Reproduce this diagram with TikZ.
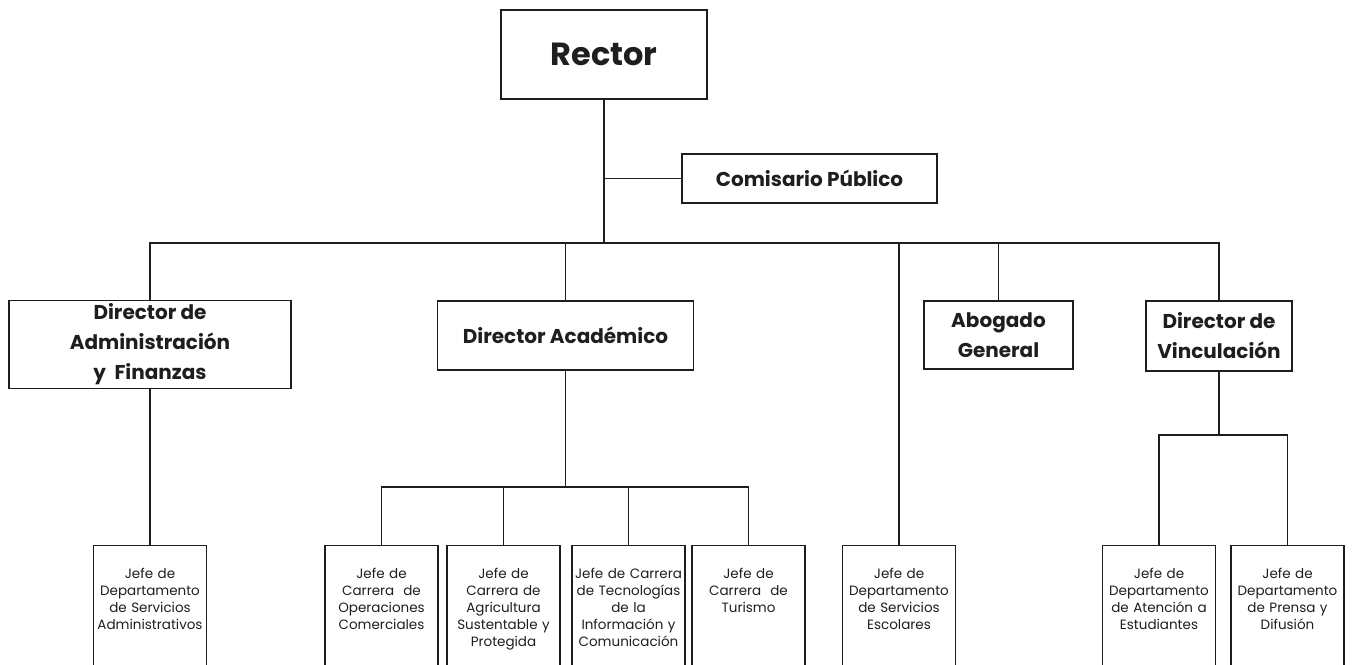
\documentclass[tikz,border=0pt]{standalone}
\usepackage{fontspec}
\setmainfont{Poppins}
\usetikzlibrary{positioning}
\definecolor{ink}{RGB}{30,30,30}
\tikzstyle{boss}=[draw=ink, line width=1.2pt, text=ink, align=center, font=\bfseries\fontsize{20}{30}\selectfont]
\tikzstyle{jefe}=[draw=ink, line width=1.2pt, text=ink, anchor=north, align=center, text width=109pt, inner xsep=2pt, inner ysep=2pt, text height=31pt, text depth=125pt, font=\fontsize{13.5}{17}\selectfont]
\tikzset{link/.style={draw=ink, line width=1.2pt}}
\tikzset{thick link/.style={draw=ink, line width=2pt}}

\begin{document}
\begin{tikzpicture}[x=1pt,y=-1pt]
  \clip (0,0) rectangle (1354,664);
  %% Top
  \draw (604,54.5) node[boss,minimum width=206pt,minimum height=89pt,font=\bfseries\fontsize{32}{32}\selectfont] (rector) {Rector};
  \draw (809.5,178.5) node[boss,minimum width=255pt,minimum height=49pt] (comisario) {Comisario Público};

  %% Directors
  \draw (150,344.5) node[boss,minimum width=282pt,minimum height=85pt] (dirAdm) {Director de\\Administración\\y\ \ Finanzas};
  \draw (565.5,335.5) node[boss,minimum width=256pt,minimum height=69pt] (dirAcad) {Director Académico};
  \draw (998.5,335) node[boss,minimum width=149pt,minimum height=68pt] (abogado) {Abogado\\General};
  \draw (1219,336) node[boss,minimum width=146pt,minimum height=70pt] (dirVinc) {Director de\\Vinculación};

  %% Jefes
  \draw (150,545) node[jefe] (jefeAdm) {Jefe de\\Departamento\\de Servicios\\Administrativos};
  \draw (381.5,545) node[jefe] (jefeOper) {Jefe de\\Carrera\ \ de\\Operaciones\\Comerciales};
  \draw (503.5,545) node[jefe] (jefeAgri) {Jefe de\\Carrera de\\Agricultura\\Sustentable y\\Protegida};
  \draw (628.5,545) node[jefe] (jefeTic) {Jefe de Carrera\\de Tecnologías\\de la\\Información y\\Comunicación};
  \draw (748.5,545) node[jefe] (jefeTur) {Jefe de\\Carrera\ \ de\\Turismo};
  \draw (899,545) node[jefe] (jefeEsc) {Jefe de\\Departamento\\de Servicios\\Escolares};
  \draw (1159,545) node[jefe] (jefeAten) {Jefe de\\Departamento\\de Atención a\\Estudiantes};
  \draw (1287.5,545) node[jefe] (jefePren) {Jefe de\\Departamento\\de Prensa y\\Difusión};

  %% Buses
  \coordinate (bus) at (0,243);
  \coordinate (acadBus) at (0,487);
  \coordinate (vincBus) at (0,435);

  \draw[link] (rector.south) -- (rector.south |- bus);
  \draw[link] (rector.south |- comisario.west) -- (comisario.west);
  \draw[link] (dirAdm.north) |- (dirVinc.north |- bus) -- (dirVinc.north);
  \draw[link] (dirAcad.north) -- (dirAcad.north |- bus);
  \draw[link] (abogado.north) -- (abogado.north |- bus);
  \draw[link] (jefeEsc.north) -- (jefeEsc.north |- bus);

  \draw[thick link] (dirAdm.south) -- (jefeAdm.north);

  \draw[link] (dirAcad.south) -- (dirAcad.south |- acadBus);
  \draw[link] (jefeOper.north) |- (jefeTur.north |- acadBus) -- (jefeTur.north);
  \draw[link] (jefeAgri.north) -- (jefeAgri.north |- acadBus);
  \draw[link] (jefeTic.north) -- (jefeTic.north |- acadBus);

  \draw[link] (dirVinc.south) -- (dirVinc.south |- vincBus);
  \draw[link] (jefeAten.north) |- (jefePren.north |- vincBus) -- (jefePren.north);
\end{tikzpicture}
\end{document}
